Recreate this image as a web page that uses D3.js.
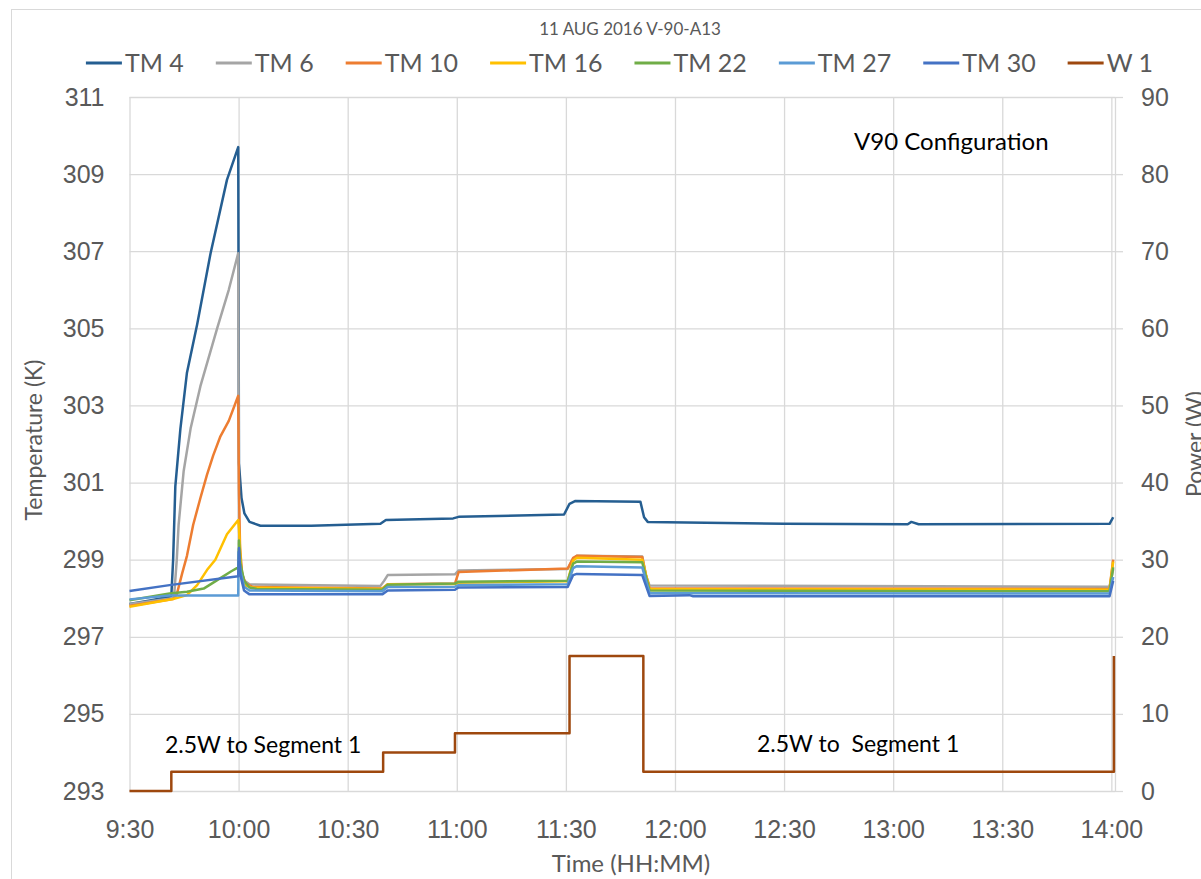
<!DOCTYPE html>
<html>
<head>
<meta charset="utf-8">
<script src="https://cdn.jsdelivr.net/npm/d3@7"></script>
<style>
body { margin: 0; background: #fff; }
svg { display: block; font-family: Lato, "Open Sans", sans-serif; }
.grid line { stroke: #d9d9d9; stroke-width: 1.3; }
.grid path { display: none; }
.axis path, .axis line { stroke: #d9d9d9; stroke-width: 1.3; }
.axis text { fill: #595959; font-size: 25px; }
.line { fill: none; stroke-width: 2.5; stroke-linejoin: round; }
.label { fill: #595959; }
.note { fill: #000; white-space: pre; }
</style>
</head>
<body>
<div id="chart"></div>
<script>
// Chart data
var chartTitle = "11 AUG 2016 V-90-A13";
var seriesNames = ["TM 4", "TM 6", "TM 10", "TM 16", "TM 22", "TM 27", "TM 30", "W 1"];
var timeTicks = ["9:30", "10:00", "10:30", "11:00", "11:30", "12:00", "12:30", "13:00", "13:30", "14:00"];
var tempTicks = [293, 295, 297, 299, 301, 303, 305, 307, 309, 311];
var powerTicks = [0, 10, 20, 30, 40, 50, 60, 70, 80, 90];

// [time, temperature K]
var tm4 = [["9:30:00",297.85],["9:36:00",297.95],["9:41:30",298.05],["9:42:00",299.0],["9:42:36",300.9],
  ["9:44:00",302.4],["9:45:48",303.85],["9:48:36",305.1],["9:52:18",306.95],["9:56:48",308.85],
  ["9:59:54",309.7],["10:00:06",301.5],["10:00:48",300.6],["10:01:36",300.2],["10:03:00",299.98],
  ["10:06:00",299.88],["10:20:00",299.88],["10:39:00",299.93],["10:40:30",300.03],["10:59:00",300.07],
  ["11:00:30",300.11],["11:29:30",300.17],["11:31:00",300.45],["11:32:30",300.52],["11:50:30",300.5],
  ["11:51:30",300.1],["11:52:30",299.98],["12:30:00",299.93],["13:04:00",299.92],["13:05:00",299.98],
  ["13:07:00",299.92],["13:59:30",299.93],["14:00:30",300.1]];
var tm6 = [["9:30:00",297.85],["9:42:00",298.0],["9:42:18",298.1],["9:43:00",299.0],["9:43:30",299.9],
  ["9:44:54",301.3],["9:46:48",302.4],["9:49:30",303.5],["9:54:06",305.0],["9:57:18",306.0],
  ["9:59:54",306.95],["10:00:06",299.4],["10:00:48",298.7],["10:01:36",298.45],["10:03:00",298.36],
  ["10:39:00",298.32],["10:40:00",298.45],["10:41:00",298.6],["10:59:30",298.62],["11:00:30",298.72],
  ["11:30:30",298.76],["11:32:00",299.02],["11:33:00",299.1],["11:51:00",299.08],["11:52:00",298.6],
  ["11:53:00",298.33],["13:59:30",298.3],["14:00:30",298.75]];
var tm10 = [["9:30:00",297.8],["9:42:00",297.98],["9:43:00",298.1],["9:44:30",298.65],["9:45:48",299.1],
  ["9:47:30",299.9],["9:49:30",300.6],["9:51:18",301.2],["9:53:00",301.7],["9:55:00",302.2],
  ["9:57:18",302.6],["9:59:54",303.25],["10:00:06",300.8],["10:00:24",299.3],["10:01:00",298.6],
  ["10:02:00",298.38],["10:04:00",298.29],["10:39:30",298.25],["10:41:00",298.36],["10:59:30",298.38],
  ["11:00:30",298.68],["11:30:30",298.77],["11:32:00",299.05],["11:33:00",299.1],["11:51:00",299.07],
  ["11:52:00",298.6],["11:53:00",298.26],["13:59:30",298.24],["14:00:30",299.0]];
var tm16 = [["9:30:00",297.78],["9:42:00",297.98],["9:45:48",298.08],["9:48:36",298.34],["9:51:18",298.73],
  ["9:53:36",299.0],["9:56:48",299.66],["9:59:54",300.03],["10:00:06",299.8],["10:00:48",298.6],
  ["10:02:00",298.32],["10:04:00",298.27],["10:39:30",298.24],["10:41:00",298.36],["10:59:30",298.37],
  ["11:00:30",298.4],["11:30:30",298.44],["11:32:00",298.98],["11:33:00",299.05],["11:51:00",299.0],
  ["11:53:00",298.24],["13:59:30",298.22],["14:00:30",298.95]];
var tm22 = [["9:30:00",297.95],["9:41:00",298.12],["9:45:48",298.17],["9:50:24",298.25],["9:55:00",298.52],
  ["9:58:00",298.7],["9:59:54",298.8],["10:00:06",299.5],["10:00:30",298.9],["10:01:30",298.45],
  ["10:03:00",298.28],["10:05:00",298.24],["10:39:30",298.22],["10:41:00",298.35],["10:59:30",298.38],
  ["11:00:30",298.43],["11:30:30",298.45],["11:32:00",298.9],["11:33:00",298.95],["11:51:00",298.93],
  ["11:53:00",298.2],["13:59:30",298.18],["14:00:30",298.8]];
var tm27 = [["9:30:00",297.97],["9:41:00",298.07],["9:59:54",298.07],["10:00:00",299.2],["10:00:30",298.7],
  ["10:01:30",298.3],["10:03:00",298.2],["10:39:30",298.18],["10:41:00",298.29],["10:59:30",298.3],
  ["11:00:30",298.34],["11:30:30",298.36],["11:32:00",298.78],["11:33:00",298.83],["11:51:00",298.8],
  ["11:53:00",298.13],["13:59:30",298.12],["14:00:30",298.55]];
var tm30 = [["9:30:00",298.19],["9:41:00",298.34],["9:59:54",298.57],["10:00:06",299.3],["10:00:30",298.6],
  ["10:01:30",298.2],["10:03:00",298.1],["10:39:30",298.1],["10:41:00",298.2],["10:59:30",298.22],
  ["11:00:30",298.28],["11:30:30",298.29],["11:32:00",298.6],["11:33:00",298.63],["11:51:00",298.6],
  ["11:53:00",298.06],["12:04:00",298.08],["12:05:00",298.05],["13:59:30",298.05],["14:00:30",298.45]];
// [time, power W], held until the next entry
var w1 = [["9:30:00",0],["9:41:30",2.5],["10:39:45",5],["10:59:30",7.5],["11:31:00",17.5],
  ["11:51:18",2.5],["14:00:42",17.5]];

var colors = ["#255e91", "#a5a5a5", "#ed7d31", "#ffc000", "#70ad47", "#5b9bd5", "#4472c4", "#9e480e"];

// Set the dimensions of the canvas / graph
var W = 1201, H = 879;
var margin = {top: 97, right: 86, bottom: 88, left: 129.5},
    width = W - margin.left - margin.right,
    height = H - margin.top - margin.bottom;

var parseTime = d3.timeParse("%H:%M:%S");
var parseTick = d3.timeParse("%H:%M");

// Set the ranges
var x = d3.scaleTime()
    .domain([parseTime("9:30:00"), parseTime("14:01:00")])
    .range([0, width]);
var yT = d3.scaleLinear().domain([293, 311]).range([height, 0]);
var yP = d3.scaleLinear().domain([0, 90]).range([height, 0]);

var svg = d3.select("#chart").append("svg")
    .attr("width", W)
    .attr("height", H);

// chart area border
svg.append("rect")
    .attr("x", 11.5).attr("y", 9.5)
    .attr("width", W + 20).attr("height", H + 20)
    .attr("fill", "none").attr("stroke", "#d9d9d9");

var g = svg.append("g")
    .attr("transform", "translate(" + margin.left + "," + margin.top + ")");

var tickDates = timeTicks.map(parseTick);

// Gridlines
g.append("g")
    .attr("class", "grid")
    .attr("transform", "translate(0," + height + ")")
    .call(d3.axisBottom(x).tickValues(tickDates).tickSize(-height).tickFormat(""));
g.append("g")
    .attr("class", "grid")
    .call(d3.axisLeft(yT).tickValues(tempTicks).tickSize(-width).tickFormat(""));

// Axes
var xAxis = g.append("g")
    .attr("class", "axis")
    .attr("transform", "translate(0," + height + ")")
    .call(d3.axisBottom(x).tickValues(tickDates).tickSize(0).tickPadding(29)
        .tickFormat(function(d, i) { return timeTicks[i]; }));
xAxis.select(".domain").remove();

var yAxis = g.append("g")
    .attr("class", "axis")
    .call(d3.axisLeft(yT).tickValues(tempTicks).tickSize(0).tickPadding(25));
yAxis.select(".domain").remove();

g.append("g")
    .attr("class", "axis")
    .attr("transform", "translate(" + width + ",0)")
    .call(d3.axisRight(yP).tickValues(powerTicks).tickSize(8).tickSizeOuter(0).tickPadding(18));

// Lines
var tempLine = d3.line()
    .x(function(d) { return x(parseTime(d[0])); })
    .y(function(d) { return yT(d[1]); });
var powerLine = d3.line()
    .curve(d3.curveStepAfter)
    .x(function(d) { return x(parseTime(d[0])); })
    .y(function(d) { return yP(d[1]); });

[tm4, tm6, tm10, tm16, tm22, tm27, tm30].forEach(function(s, i) {
  g.append("path")
      .datum(s)
      .attr("class", "line")
      .attr("stroke", colors[i])
      .attr("d", tempLine);
});
g.append("path")
    .datum(w1)
    .attr("class", "line")
    .attr("stroke", colors[7])
    .attr("d", powerLine);

// Title
svg.append("text")
    .attr("class", "label")
    .attr("x", 630).attr("y", 35)
    .attr("text-anchor", "middle")
    .style("font-size", "17px")
    .text(chartTitle);

// Legend
var legend = svg.append("g");
var lx = 0;
seriesNames.forEach(function(name, i) {
  var item = legend.append("g").attr("transform", "translate(" + lx + ",0)");
  item.append("line")
      .attr("x1", 0).attr("x2", 36)
      .attr("stroke", colors[i]).attr("stroke-width", 3);
  var t = item.append("text")
      .attr("class", "label")
      .attr("x", 39).attr("y", 9)
      .style("font-size", "25px")
      .text(name);
  lx += 39 + t.node().getComputedTextLength() + 32;
});
legend.attr("transform", "translate(" + (619.5 - (lx - 32) / 2) + ",63)");

// Axis titles
svg.append("text")
    .attr("class", "label")
    .attr("transform", "translate(42,440) rotate(-90)")
    .attr("text-anchor", "middle")
    .style("font-size", "23px")
    .text("Temperature (K)");
svg.append("text")
    .attr("class", "label")
    .attr("transform", "translate(1203,444) rotate(-90)")
    .attr("text-anchor", "middle")
    .style("font-size", "23px")
    .text("Power (W)");
svg.append("text")
    .attr("class", "label")
    .attr("x", 631).attr("y", 872)
    .attr("text-anchor", "middle")
    .style("font-size", "24px")
    .text("Time (HH:MM)");

// Annotations
svg.append("text").attr("class", "note")
    .attr("x", 165).attr("y", 753).style("font-size", "23px")
    .text("2.5W to Segment 1");
svg.append("text").attr("class", "note")
    .attr("x", 757).attr("y", 752).style("font-size", "23px")
    .text("2.5W to  Segment 1");
svg.append("text").attr("class", "note")
    .attr("x", 854).attr("y", 150).style("font-size", "24px")
    .text("V90 Configuration");
</script>
</body>
</html>
